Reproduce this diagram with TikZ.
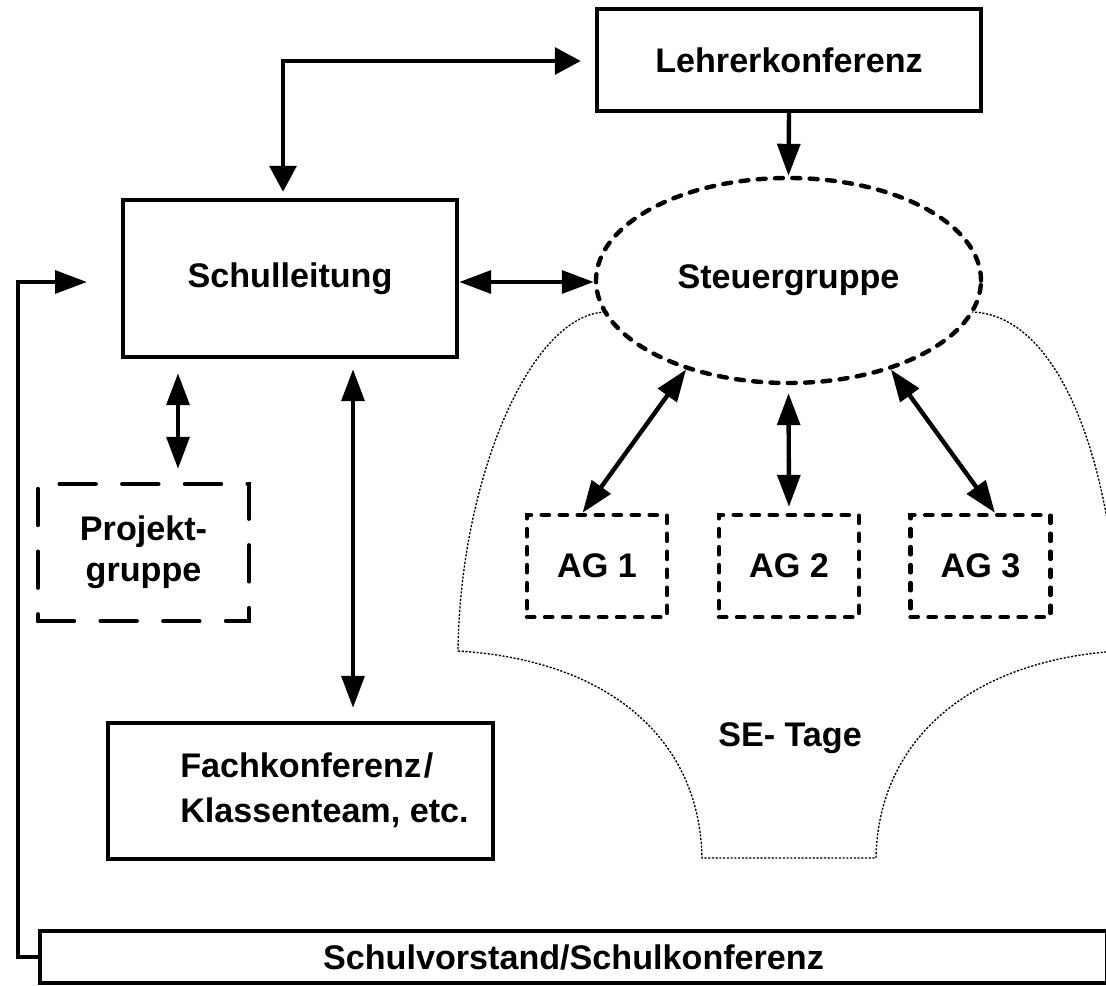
\documentclass[tikz,border=0pt]{standalone}
\usepackage{fontspec}
\setmainfont{Liberation Sans}
\usetikzlibrary{arrows.meta,shapes.geometric,calc}
\begin{document}
\begin{tikzpicture}[x=0.75pt,y=-0.75pt,
  lbl/.style={font=\fontsize{25.6}{30.75}\selectfont\bfseries, align=center},
  solidbox/.style={draw, line width=3.3pt, rectangle, inner sep=0pt, lbl},
  agbox/.style={draw, line width=3.3pt, rectangle, inner sep=0pt, lbl, dash pattern=on 5.5pt off 8pt, line cap=round, minimum width=105pt, minimum height=76.5pt},
  projbox/.style={draw, line width=3.3pt, rectangle, inner sep=0pt, lbl, dash pattern=on 27pt off 20pt, line cap=round, minimum width=158.25pt, minimum height=102.75pt},
  sgl/.style={line width=3.3pt, arrows={-Triangle[length=24pt,width=17pt]}},
  dbl/.style={line width=3.3pt, arrows={Triangle[length=24pt,width=17pt]-Triangle[length=24pt,width=17pt]}},
  dblbig/.style={line width=3.3pt, arrows={Triangle[length=19.5pt,width=20pt]-Triangle[length=19.5pt,width=20pt]}},
  outline/.style={line width=1pt, dash pattern=on 1.6pt off 1.2pt}
]
\clip (0,0) rectangle (1106,985);
\fill[white] (0,0) rectangle (1106,985);

% SE-Tage outline
\draw[outline] (605,312) .. controls (530,315) and (460,480) .. (458,651)
  .. controls (610,660) and (700,740) .. (702,858) -- (876,858)
  .. controls (878,740) and (970,660) .. (1119,651)
  .. controls (1117,480) and (1065,315) .. (972,312);

% nodes
\node[solidbox, minimum width=288pt, minimum height=76.5pt] (lehrer) at (789,60) {Lehrerkonferenz};
\node[solidbox, minimum width=250.5pt, minimum height=117.75pt] (schul) at (290,278.5) {Schulleitung};
\node[ellipse, draw, line width=3.3pt, dash pattern=on 6pt off 7pt, line cap=round, fill=white,
      minimum width=288.75pt, minimum height=153.75pt, inner sep=0pt, lbl] (steuer) at (788.5,280.5) {Steuergruppe};
\node[agbox] (ag1) at (597,566) {AG 1};
\node[agbox] (ag2) at (789,566) {AG 2};
\node[agbox] (ag3) at (980.5,566) {AG 3};
\node[projbox] (projekt) at (143.5,552.5) {Projekt-\\gruppe};
\node[solidbox, minimum width=288.75pt, minimum height=102pt] (fach) at (300.5,791) {};
\node[lbl, align=left, anchor=west, inner sep=0pt, font=\fontsize{25.6}{33.75}\selectfont\bfseries] (fachtext) at (180,790.5) {Fachkonferenz\kern2pt/\\Klassenteam, etc.};
\node[solidbox, minimum width=800.25pt, minimum height=39pt] (vorstand) at (573.5,957) {Schulvorstand/Schulkonferenz};
\node[lbl] (setage) at (790,738) {SE- Tage};

% connectors
\coordinate (tc) at (283,61);
\draw[dblbig, shorten <=4.5pt, shorten >=10.5pt] (schul.north -| tc) -- (tc) -- (lehrer.west |- tc);
\draw[sgl] (lehrer.south) -- (steuer.north);
\coordinate (sy) at (500,282);
\draw[dbl] (schul.east |- sy) -- (steuer.west |- sy);
\coordinate (pa) at (178,420);
\draw[dbl, shorten <=10.5pt, shorten >=9.75pt] (schul.south -| pa) -- (projekt.north -| pa);
\coordinate (la) at (353,540);
\draw[dbl, shorten <=7.5pt, shorten >=9.75pt] (schul.south -| la) -- (fach.north -| la);
\draw[dbl, shorten <=6pt, shorten >=4.5pt] (steuer.south) -- (ag2.north);
\draw[dbl] (steuer.221) -- ($(ag1.north)!0.2!(ag1.north west)$);
\draw[dbl] (steuer.319) -- ($(ag3.north)!0.2!(ag3.north east)$);
\coordinate (lc) at (18,282);
\coordinate (le) at (87,282);
\draw[sgl] (vorstand.west) -| (lc) -- (le);
\end{tikzpicture}
\end{document}
